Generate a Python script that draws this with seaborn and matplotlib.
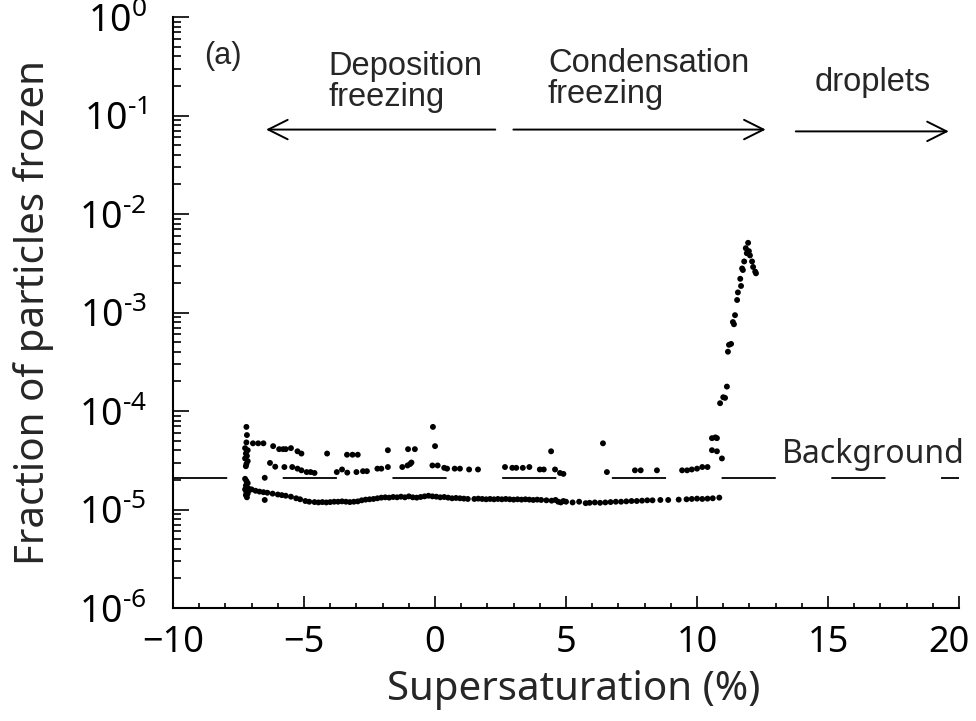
import matplotlib
matplotlib.use("Agg")
import matplotlib.pyplot as plt
import matplotlib.transforms as mtransforms
import seaborn as sns
import numpy as np
import pandas as pd
from matplotlib.ticker import MultipleLocator, LogLocator, FixedLocator, FixedFormatter, NullFormatter

# points (supersaturation in %, fraction frozen)
# lower band ~1.2-1.4e-5
lower_x = [-7.0, -6.85, -6.7, -6.55, -6.4, -6.2, -6.0, -5.85, -5.7, -5.5, -5.3, -5.15,
           -4.95, -4.8, -4.6, -4.45, -4.3, -4.15, -4.0, -3.85, -3.7, -3.55, -3.4, -3.25,
           -3.1, -2.95, -2.8, -2.65, -2.5, -2.35, -2.2, -2.05, -1.9, -1.75, -1.6, -1.45,
           -1.3, -1.15, -1.0, -0.85, -0.7, -0.55, -0.4, -0.25, -0.1, 0.05, 0.2, 0.35,
           0.5, 0.65, 0.8, 0.95, 1.1, 1.25, 1.5, 1.65, 1.8, 1.95, 2.1, 2.25, 2.4, 2.55,
           2.7, 2.85, 3.0, 3.15, 3.3, 3.45, 3.6, 3.75, 3.9, 4.05, 4.25, 4.45, 4.6, 4.7,
           4.8, 4.9, 5.0, 5.25, 5.5, 5.75, 5.9, 6.1, 6.3, 6.5, 6.7, 6.9, 7.1, 7.3, 7.5,
           7.7, 7.9, 8.1, 8.3, 8.6, 8.9, 9.3, 9.6, 9.8, 10.0, 10.2, 10.4, 10.6, 10.85]
lower_y = [1.6, 1.55, 1.52, 1.5, 1.48, 1.45, 1.42, 1.4, 1.38, 1.35, 1.3, 1.27,
           1.22, 1.2, 1.19, 1.18, 1.19, 1.18, 1.19, 1.2, 1.2, 1.21, 1.2, 1.19,
           1.2, 1.21, 1.24, 1.26, 1.27, 1.28, 1.3, 1.32, 1.33, 1.32, 1.34, 1.33,
           1.35, 1.33, 1.36, 1.33, 1.32, 1.34, 1.36, 1.38, 1.36, 1.35, 1.33, 1.34,
           1.32, 1.3, 1.31, 1.3, 1.29, 1.28, 1.28, 1.29, 1.28, 1.27, 1.28, 1.27, 1.28, 1.27,
           1.28, 1.27, 1.26, 1.27, 1.26, 1.27, 1.26, 1.25, 1.26, 1.25, 1.24, 1.23, 1.25, 1.2,
           1.18, 1.22, 1.2, 1.18, 1.2, 1.16, 1.17, 1.18, 1.17, 1.18, 1.19, 1.2, 1.2, 1.21, 1.22,
           1.22, 1.23, 1.24, 1.24, 1.25, 1.25, 1.26, 1.27, 1.28, 1.29, 1.28, 1.29, 1.3, 1.32]

# middle band ~2.5e-5
mid_x = [-6.3, -6.1, -5.75, -5.45, -5.25, -5.1, -4.9, -4.75, -4.6, -3.75, -3.55, -3.35,
         -3.0, -2.75, -2.6, -2.2, -2.05, -1.8, -1.25, -1.05, -0.95, -0.9, -0.1, 0.1,
         0.35, 0.46, 0.75, 0.95, 1.3, 1.64, 2.67, 2.95, 3.1, 3.35, 3.6, 4.0, 4.15, 4.58,
         4.77, 4.9, 6.56, 7.63, 7.85, 8.47, 9.43, 9.62, 9.8, 10.0, 10.2, 10.4]
mid_y = [2.97, 2.72, 2.7, 2.7, 2.6, 2.5, 2.4, 2.4, 2.35, 2.4, 2.55, 2.37,
         2.4, 2.45, 2.45, 2.6, 2.6, 2.7, 2.7, 2.8, 2.9, 3.0, 2.8, 2.8,
         2.65, 2.6, 2.6, 2.6, 2.55, 2.55, 2.7, 2.65, 2.65, 2.65, 2.7, 2.55, 2.55, 2.55,
         2.35, 2.3, 2.4, 2.5, 2.5, 2.5, 2.5, 2.5, 2.55, 2.6, 2.7, 2.7]

# scattered upper points and the column near -7 %
upper_x = [-6.95, -6.75, -6.55, -6.18, -5.95, -5.8, -5.7, -5.5, -5.25, -5.1, -4.12,
           -3.36, -3.15, -2.95, -1.8, -1.03, -0.77, -0.08, 0.0, 4.43, 6.41,
           -7.2, -7.18, -7.2, -7.25, -7.15, -7.22, -7.18, -7.25, -7.15, -7.2, -7.22,
           -7.25, -7.2, -7.15, -7.22, -7.18, -7.25, -7.12, -7.2, -7.15, -7.22, -7.18,
           -7.1, -6.5, -6.5]
upper_y = [4.7, 4.7, 4.7, 4.4, 4.1, 4.1, 4.1, 4.2, 3.9, 3.7, 3.7,
           3.6, 3.6, 3.6, 4.0, 4.1, 4.1, 6.9, 4.4, 3.9, 4.7,
           6.9, 5.7, 4.8, 4.2, 4.0, 3.7, 3.5, 3.3, 3.1, 2.9, 2.75,
           2.05, 1.95, 1.85, 1.75, 1.68, 1.6, 1.55, 1.5, 1.45, 1.4, 1.33,
           1.62, 2.1, 1.25]

# rise above 10 % supersaturation (absolute fraction)
spike_x = [10.57, 10.7, 10.76, 10.57, 10.76, 10.95, 10.88, 11.0, 11.07, 11.14, 11.18,
           11.22, 11.3, 11.37, 11.41, 11.45, 11.53, 11.56, 11.68, 11.65, 11.75, 11.72,
           11.8, 11.9, 11.86, 11.95, 11.98, 12.1, 12.14, 12.22, 12.25, 12.02]
spike_y = [5.3e-5, 5.4e-5, 5.3e-5, 4.0e-5, 3.9e-5, 3.3e-5, 1.2e-4, 1.38e-4, 1.36e-4,
           1.77e-4, 4.0e-4, 4.7e-4, 4.8e-4, 8.0e-4, 7.6e-4, 9.4e-4, 1.34e-3, 1.6e-3,
           1.86e-3, 2.2e-3, 2.7e-3, 2.8e-3, 3.3e-3, 4.0e-3, 4.5e-3, 5.1e-3, 4.2e-3,
           3.3e-3, 2.9e-3, 2.6e-3, 2.5e-3, 3.8e-3]

background = 2.1e-5
y_ticks = [1e-6, 1e-5, 1e-4, 1e-3, 1e-2, 1e-1, 1e0]
y_ticklabels = ["$\\mathregular{10^{\u20106}}$", "$\\mathregular{10^{\u20105}}$",
                "$\\mathregular{10^{\u20104}}$", "$\\mathregular{10^{\u20103}}$",
                "$\\mathregular{10^{\u20102}}$", "$\\mathregular{10^{\u20101}}$",
                "$\\mathregular{10^{0}}$"]

df = pd.DataFrame({
    "ss": lower_x + mid_x + upper_x + spike_x,
    "frac": [v * 1e-5 for v in lower_y + mid_y + upper_y] + spike_y,
})

sns.set_theme(style="ticks")
plt.rcParams["font.family"] = ["Noto Sans", "DejaVu Sans"]
plt.rcParams["mathtext.fontset"] = "custom"
plt.rcParams["mathtext.rm"] = "Noto Sans"
plt.rcParams["lines.scale_dashes"] = False

fig = plt.figure(figsize=(9.76, 7.21), dpi=100)
ax = fig.add_axes([0.1773, 0.1567, 0.8053, 0.8197])

sns.scatterplot(data=df, x="ss", y="frac", ax=ax, color="black", s=18,
                edgecolor="none", legend=False)

ax.axhline(background, color="black", lw=1.3, dashes=(39, 40))

ax.set_yscale("log")
ax.set_xlim(-10, 20)
ax.set_ylim(1e-6, 1e0)

ax.xaxis.set_major_locator(MultipleLocator(5))
ax.xaxis.set_minor_locator(MultipleLocator(1))
ax.yaxis.set_major_locator(FixedLocator(y_ticks))
ax.yaxis.set_major_formatter(FixedFormatter(y_ticklabels))
ax.yaxis.set_minor_locator(LogLocator(base=10, subs=np.arange(2, 10)))
ax.yaxis.set_minor_formatter(NullFormatter())

ax.tick_params(axis="both", which="both", direction="in", colors="black", width=1.2)
ax.tick_params(axis="x", which="major", length=8.5, labelsize=26, pad=12)
ax.tick_params(axis="x", which="minor", length=3.6)
ax.tick_params(axis="y", which="major", length=11.5, labelsize=27, pad=19)
ax.tick_params(axis="y", which="minor", length=5.8)

sns.despine(ax=ax)
for side in ["left", "bottom"]:
    ax.spines[side].set_linewidth(1.5)
    ax.spines[side].set_color("black")

ax.set_xlabel("Supersaturation (%)", fontsize=29, labelpad=4)
ax.xaxis.set_label_coords(0.51, -0.105)
ax.set_ylabel("Fraction of particles frozen", fontsize=29, labelpad=18)

# keep the "20" label inside the canvas
fig.canvas.draw()
for tick in ax.xaxis.get_major_ticks():
    if np.isclose(tick.get_loc(), 20):
        lab = tick.label1
        lab.set_transform(lab.get_transform() +
                          mtransforms.ScaledTranslation(-10 / 100, 0, fig.dpi_scale_trans))

# annotations
arial = ["Liberation Sans", "DejaVu Sans"]
ax.text(-8.8, 0.40, "(a)", fontsize=22, family=arial, va="center")
ax.text(-4.08, 0.45, "Deposition\nfreezing", fontsize=23.5, family=arial,
        va="top", linespacing=1.0)
ax.text(4.31, 0.48, "Condensation\nfreezing", fontsize=23.5, family=arial,
        va="top", linespacing=1.0)
ax.text(14.5, 0.177, "droplets", fontsize=23.5, family=arial, va="baseline")
ax.text(13.24, 2.97e-5, "Background", fontsize=23, va="baseline")

arrow = dict(arrowstyle="->,head_length=1.4,head_width=0.7", color="black",
             lw=1.4, shrinkA=0, shrinkB=0, mutation_scale=10)
ax.annotate("", xy=(-6.45, 0.072), xytext=(2.30, 0.072), arrowprops=arrow)
ax.annotate("", xy=(12.62, 0.072), xytext=(2.99, 0.072), arrowprops=arrow)
ax.annotate("", xy=(19.61, 0.069), xytext=(13.77, 0.069), arrowprops=arrow)

fig.savefig("out.png", dpi=100, facecolor="white")
